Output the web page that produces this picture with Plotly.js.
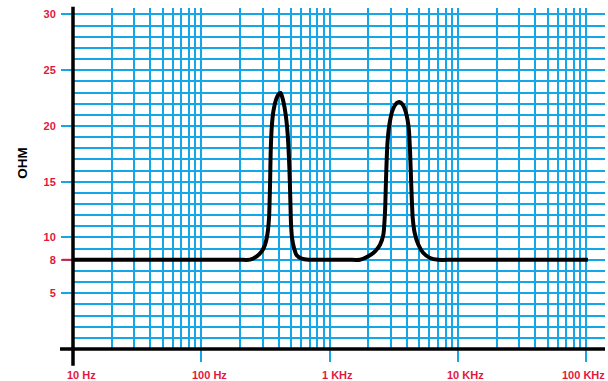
<!DOCTYPE html>
<html>
<head>
<meta charset="utf-8">
<script src="https://cdn.plot.ly/plotly-3.0.1.min.js"></script>
<style>html,body{margin:0;padding:0;background:#fff;}#chart{width:608px;height:381px;}</style>
</head>
<body>
<div id="chart"></div>
<script>
// Frequency (Hz) and impedance (ohm)
const freqHz = [10, 30, 100, 200, 239.7, 270.1, 295.5, 313.7, 327.1, 337.1, 343.2, 347.3, 353.6, 364.3, 382.1, 398.4, 415.5, 435.9, 454.6, 471.2, 485.6, 494.4, 500.4, 509.4, 527.9, 553.8, 605.8, 682.9, 746.7,
  1000, 1400, 1726, 2004, 2259, 2471, 2623, 2703, 2752, 2818, 2921, 3101, 3333, 3496, 3710, 3940, 4133, 4234, 4335, 4441, 4603, 4915, 5377, 6061, 7038, 9000, 30000, 103000];
const ohm = [8, 8, 8, 8, 8.01, 8.31, 8.75, 9.35, 10.25, 11.75, 14.74, 17.72, 19.82, 21.31, 22.36, 22.81, 22.96, 22.2, 21.01, 19.22, 16.23, 13.24, 11.15, 9.95, 9.06, 8.4, 8.1, 8.0, 8.0,
  8.0, 8.0, 8.0, 8.31, 8.76, 9.35, 10.25, 12.34, 15.33, 18.32, 20.12, 21.46, 22.06, 22.15, 21.91, 21.16, 19.82, 17.72, 14.44, 11.75, 10.40, 9.35, 8.61, 8.16, 8.0, 8.0, 8.0, 8.0];

const nominalOhm = 8;
const yTickVals = [5, 8, 10, 15, 20, 25, 30];
const xTickVals = [10, 100, 1000, 10000, 100000];
const xTickText = ["10 Hz", "100 Hz", "1 KHz", "10 KHz", "100 KHz"];
const decades = [10, 100, 1000, 10000, 100000];

const RED = '#e3173e';
const BLUE = '#14a6e6';
const labelFont = {family: 'Liberation Sans, Arial, sans-serif', size: 11, color: RED, weight: 'bold'};

// minor vertical grid positions: 2..9 per decade
const minorX = [];
decades.forEach(d => { for (let k = 2; k <= 9; k++) minorX.push(d * k); });

const trace = {
  x: freqHz, y: ohm, type: 'scatter', mode: 'lines',
  line: {color: '#000', width: 4, shape: 'spline', smoothing: 0.6},
  hoverinfo: 'skip'
};

const annotations = xTickVals.map((v, i) => {
  const last = i === xTickVals.length - 1;
  return {
    xref: last ? 'paper' : 'x', x: last ? 1 : Math.log10(v),
    yref: 'paper', y: 0, yshift: -26, yanchor: 'middle',
    xanchor: last ? 'right' : 'center', xshift: last ? 2 : 8,
    text: xTickText[i], showarrow: false, font: labelFont
  };
});
annotations.push({
  xref: 'paper', x: 0, xshift: -50, xanchor: 'center',
  yref: 'paper', y: 0.546, yanchor: 'middle',
  text: 'OHM', textangle: -90, showarrow: false,
  font: {family: 'Liberation Sans, Arial, sans-serif', size: 13.5, color: '#000', weight: 'bold'}
});

const layout = {
  width: 608, height: 381,
  margin: {l: 73, r: 3, t: 8, b: 32},
  paper_bgcolor: '#fff', plot_bgcolor: '#fff',
  showlegend: false,
  xaxis: {
    type: 'log', range: [1, 5.146],
    tickvals: xTickVals, ticktext: xTickVals.map(() => ''),
    ticks: 'outside', ticklen: 12, tickwidth: 2, tickcolor: BLUE,
    showgrid: true, gridcolor: BLUE, gridwidth: 2,
    minor: {tickvals: minorX, showgrid: true, gridcolor: BLUE, gridwidth: 2, ticks: ''},
    zeroline: false, showline: false, fixedrange: true
  },
  yaxis: {
    range: [0, 30.58],
    tickvals: yTickVals, ticktext: yTickVals.map(String),
    tickfont: labelFont,
    ticks: 'outside', ticklen: 11, tickwidth: 2, tickcolor: BLUE,
    ticklabelstandoff: 3,
    showgrid: true, gridcolor: BLUE, gridwidth: 2,
    minor: {tickmode: 'linear', tick0: 0, dtick: 1, showgrid: true, gridcolor: BLUE, gridwidth: 2, ticks: ''},
    zeroline: false, showline: false, fixedrange: true
  },
  shapes: [
    {type: 'line', layer: 'between', xref: 'paper', x0: 0, x1: 1, yref: 'y', y0: nominalOhm, y1: nominalOhm, line: {color: RED, width: 1.6}},
    {type: 'line', layer: 'above', xref: 'paper', x0: -0.0207, x1: 0, yref: 'y', y0: nominalOhm, y1: nominalOhm, line: {color: RED, width: 2}},
    {type: 'line', layer: 'above', xref: 'paper', x0: -0.0244, x1: 1, yref: 'paper', y0: 0, y1: 0, line: {color: '#000', width: 3.5}},
    {type: 'line', layer: 'above', xref: 'paper', x0: 0, x1: 0, yref: 'paper', y0: -0.049, y1: 1.004, line: {color: '#000', width: 3.5}}
  ],
  annotations: annotations
};

Plotly.newPlot('chart', [trace], layout, {staticPlot: true, displayModeBar: false});
</script>
</body>
</html>
